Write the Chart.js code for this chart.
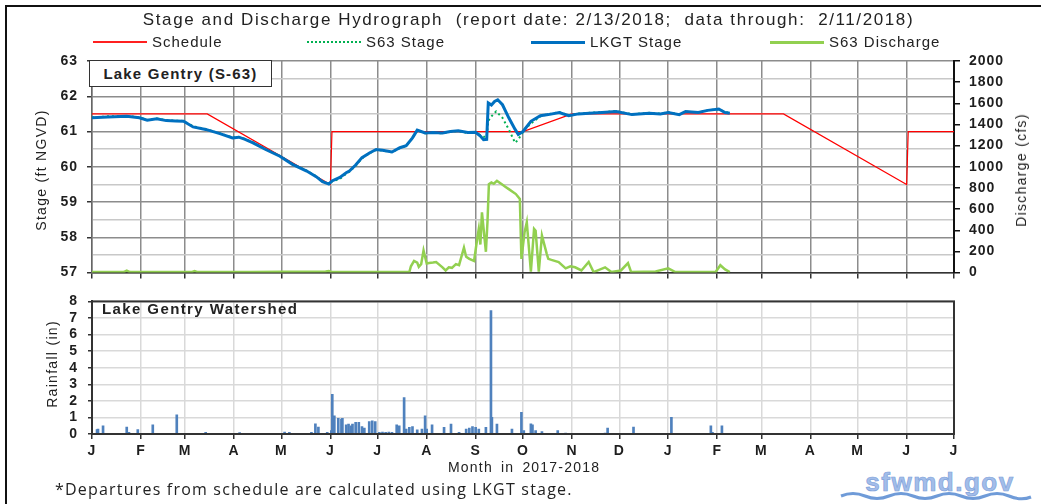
<!DOCTYPE html>
<html lang="en">
<head>
<meta charset="UTF-8">
<title>Lake Gentry - Stage and Discharge Hydrograph</title>
<script src="https://cdn.jsdelivr.net/npm/chart.js"></script>
<style>
    body {
        margin: 0;
        background: #fff;
        font-family: "Liberation Sans", Arial, sans-serif;
        color: #222;
    }
    #page {
        position: relative;
        width: 1041px;
        height: 504px;
        overflow: hidden;
    }
    .frame {
        position: absolute;
        left: 5px;
        top: 5px;
        width: 1100px;
        height: 600px;
        border-left: 2px solid #111;
        border-top: 2px solid #111;
    }
    canvas { position: absolute; left: 0; }
    #topChart { top: 0; }
    #rainChart { top: 283px; }
    .title {
        position: absolute;
        top: 10px;
        left: 8px;
        width: 1041px;
        text-align: center;
        font-size: 17px;
        letter-spacing: 1.6px;
        white-space: pre;
    }
    .lg {
        position: absolute;
        top: 33px;
        font-size: 15px;
        letter-spacing: 1px;
        white-space: nowrap;
        line-height: 17px;
    }
    .lg span {
        display: inline-block;
        width: 54px;
        vertical-align: middle;
        margin-right: 5px;
        margin-top: -2px;
    }
    .ylab {
        position: absolute;
        font-size: 14px;
        letter-spacing: 1.3px;
        white-space: nowrap;
        transform: translate(-50%, -50%) rotate(-90deg);
    }
    .box {
        position: absolute;
        left: 89px;
        top: 60px;
        width: 181px;
        height: 25px;
        border: 1.5px solid #333;
        background: #fff;
        font-weight: bold;
        font-size: 15px;
        letter-spacing: 1.2px;
        line-height: 25px;
        text-align: center;
    }
    .note {
        position: absolute;
        white-space: nowrap;
    }
    .mark {
        position: absolute;
        left: 838px;
        top: 469px;
    }
</style>
</head>
<body>
<div id="page">
    <div class="frame"></div>
    <canvas id="topChart" width="1041" height="290"></canvas>
    <canvas id="rainChart" width="1041" height="180"></canvas>

    <div class="title">Stage and Discharge Hydrograph  (report date: 2/13/2018;  data through:  2/11/2018)</div>
    <div class="lg" style="left:93px"><span style="height:1.5px; background:#ff2020"></span>Schedule</div>
    <div class="lg" style="left:307px"><span style="border-top:2px dotted #00b050"></span>S63 Stage</div>
    <div class="lg" style="left:531px"><span style="height:3px; background:#0070c0"></span>LKGT Stage</div>
    <div class="lg" style="left:770px"><span style="height:3px; background:#92d050"></span>S63 Discharge</div>

    <div class="ylab" style="left:41px; top:170px">Stage (ft NGVD)</div>
    <div class="ylab" style="left:1021px; top:170px">Discharge (cfs)</div>
    <div class="ylab" style="left:52px; top:364px">Rainfall (in)</div>

    <div class="box">Lake Gentry (S-63)</div>
    <div class="note" style="left:102px; top:300px; font-weight:bold; font-size:15px; letter-spacing:1.4px">Lake Gentry Watershed</div>
    <div class="note" style="left:448px; top:459px; font-size:14px; letter-spacing:1.2px; word-spacing:3px">Month in 2017-2018</div>
    <div class="note" style="left:55px; top:478px; font-size:16px; letter-spacing:1.2px; font-family:'Open Sans', sans-serif">*Departures from schedule are calculated using LKGT stage.</div>

    <svg class="mark" width="195" height="34" viewBox="0 0 195 34">
        <text x="102" y="22" text-anchor="middle" font-family="Liberation Sans, Arial" font-weight="bold"
              font-size="26" fill="#a3bde9" stroke="#7fa2da" stroke-width="0.7" letter-spacing="1.5">sfwmd.gov</text>
        <path d="M3 27 Q 15 22 27 27 T 51 27 T 75 27 T 99 27 T 123 27 T 147 27 T 171 27 T 193 28"
              fill="none" stroke="#6f9bd8" stroke-width="3"/>
    </svg>
</div>

<script>
    // x values are days since Jan 1, 2017
    const monthStarts = [0, 31, 59, 90, 120, 151, 181, 212, 243, 273, 304, 334, 365, 396, 424, 455, 485, 516, 546];
    const monthLabels = ['J', 'F', 'M', 'A', 'M', 'J', 'J', 'A', 'S', 'O', 'N', 'D', 'J', 'F', 'M', 'A', 'M', 'J', 'J'];

    const scheduleDays  = [0, 73, 151, 152, 273, 304, 438, 516, 517, 546];
    const scheduleStage = [61.5, 61.5, 59.5, 61.0, 61.0, 61.5, 61.5, 59.5, 61.0, 61.0];

    const lkgtDays = [0, 10, 22, 30, 35, 41, 47, 53, 58, 64, 72, 81, 89, 93, 97, 102, 110, 119, 127, 136,
        142, 146, 150, 152, 157, 161, 163, 167, 171, 176, 180, 184, 190, 195, 199, 203, 206, 211, 216, 222,
        227, 232, 238, 243, 246, 248, 250, 251, 253, 255, 257, 260, 264, 268, 270, 273, 278, 284, 289, 296,
        302, 308, 315, 323, 332, 342, 353, 360, 365, 372, 376, 384, 390, 397, 401, 404];
    const lkgtStage = [61.39, 61.41, 61.43, 61.39, 61.32, 61.36, 61.31, 61.30, 61.29, 61.13, 61.06, 60.94, 60.82, 60.84, 60.78, 60.68, 60.49, 60.30, 60.07, 59.88,
        59.72, 59.58, 59.51, 59.60, 59.70, 59.83, 59.88, 60.05, 60.26, 60.40, 60.49, 60.47, 60.42, 60.54, 60.60, 60.82, 61.04, 60.96, 60.97, 60.96,
        61.00, 61.02, 60.97, 60.98, 60.87, 60.77, 60.78, 61.81, 61.75, 61.85, 61.90, 61.76, 61.39, 61.06, 60.92, 61.00, 61.29, 61.45, 61.48, 61.54,
        61.45, 61.50, 61.52, 61.54, 61.57, 61.48, 61.52, 61.50, 61.54, 61.48, 61.57, 61.54, 61.60, 61.64, 61.54, 61.52];

    const s63Days = [0, 10, 22, 30, 35, 41, 47, 53, 58, 64, 72, 81, 89, 93, 97, 102, 110, 119, 127, 136,
        142, 146, 150, 152, 157, 161, 163, 167, 171, 176, 180, 184, 190, 195, 199, 203, 206, 211, 216, 222,
        227, 232, 238, 243, 246, 248, 250, 251, 253, 256, 260, 264, 268, 270, 274, 280, 284, 289, 296,
        302, 308, 315, 323, 332, 342, 353, 360, 365, 372, 376, 384, 390, 397, 401, 404];
    const s63Stage = [61.40, 61.43, 61.44, 61.40, 61.33, 61.37, 61.32, 61.31, 61.30, 61.15, 61.07, 60.95, 60.83, 60.85, 60.79, 60.69, 60.50, 60.31, 60.08, 59.89,
        59.73, 59.59, 59.52, 59.58, 59.66, 59.80, 59.86, 60.03, 60.24, 60.39, 60.48, 60.46, 60.41, 60.53, 60.59, 60.81, 61.03, 60.95, 60.96, 60.95,
        60.99, 61.01, 60.96, 60.97, 60.90, 60.85, 60.85, 61.30, 61.43, 61.57, 61.39, 61.06, 60.68, 60.77, 61.06, 61.30, 61.43, 61.49, 61.55,
        61.46, 61.51, 61.53, 61.55, 61.58, 61.49, 61.53, 61.51, 61.55, 61.49, 61.56, 61.55, 61.61, 61.63, 61.55, 61.53];

    const dischargeDays = [0, 20, 22, 24, 63, 65, 67, 100, 120, 148, 150, 152, 201, 202, 204, 206, 207, 208.5, 210, 212,
        213.5, 216, 218, 222, 224, 226, 228, 230.5, 232.5, 235.6, 237, 239, 242, 244, 245, 246, 247, 248, 249.5, 250.5,
        251.4, 253, 254.5, 256.5, 259.6, 262, 264, 268.5, 271, 272, 274, 275.4, 278, 280, 281, 282, 283, 285, 288, 289,
        291, 295.6, 300, 303, 306, 310, 314.6, 317.7, 325, 329, 335, 339.5, 341.5, 357, 365, 369.5, 395, 398, 401, 404];
    const dischargeCfs = [5, 5, 18, 5, 5, 15, 5, 5, 8, 10, 15, 5, 5, 60, 110, 95, 55, 80, 210, 85,
        90, 95, 100, 50, 20, 50, 45, 80, 70, 235, 150, 130, 110, 320, 413, 265, 570, 420, 197, 480,
        836, 852, 840, 867, 836, 810, 789, 742, 695, 130, 382, 476, 10, 413, 395, 200, 10, 350, 180, 130,
        120, 100, 40, 60, 50, 20, 100, 5, 50, 5, 20, 90, 5, 10, 40, 5, 5, 70, 30, 5];

    const rainDays = [3.2, 3.8, 7, 22, 23.4, 29, 38.5, 53.7, 72, 93.5, 122, 125, 139, 141.5, 143.4, 149, 151.6, 152.2, 153.5, 156,
        158, 158.6, 161, 162.5, 164, 165, 167, 169, 171, 172.5, 175.6, 177.5, 179.4, 182, 184, 186, 188, 190, 193, 194.6,
        197.7, 199, 201, 203, 206, 209, 211, 212, 215.4, 223, 227.4, 232.5, 237, 239, 241, 243, 245, 249.5, 252.7, 253.3,
        256.5, 266, 272, 273.5, 278, 279, 281, 285, 295, 300, 325, 326.6, 343, 367, 392, 393, 399];
    const rainInches = [0.26, 0.3, 0.5, 0.42, 0.1, 0.26, 0.56, 1.15, 0.1, 0.08, 0.12, 0.1, 0.1, 0.62, 0.42, 0.1, 0.2, 2.4, 1.1, 0.95,
        0.9, 0.95, 0.55, 0.6, 0.5, 0.6, 0.7, 0.7, 0.45, 0.35, 0.75, 0.8, 0.75, 0.1, 0.12, 0.1, 0.12, 0.1, 0.55, 0.5,
        2.2, 0.3, 0.4, 0.45, 0.25, 0.3, 1.1, 0.3, 0.55, 0.4, 0.6, 0.1, 0.3, 0.35, 0.45, 0.4, 0.3, 0.4, 7.45, 1.0,
        0.6, 0.3, 1.3, 0.2, 0.62, 0.55, 0.2, 0.15, 0.2, 0.05, 0.05, 0.35, 0.42, 1.0, 0.5, 0.1, 0.5];

    const PLOT_LEFT = 92;
    const PLOT_RIGHT = 954;
    const W = 1041;
    const tickFont = { family: 'Liberation Sans', size: 14, weight: 'bold' };
    const tickColor = '#1e1e1e';

    function pts(xs, ys) {
        return xs.map((x, i) => ({ x: x, y: ys[i] }));
    }

    function monthTicks(scale) {
        scale.ticks = monthStarts.map(v => ({ value: v }));
    }

    const isInt = v => Math.abs(v - Math.round(v)) < 1e-6;

    // the reference's tick labels are set a little wide
    const wideText = {
        id: 'wideText',
        beforeDraw(chart) { chart.ctx.letterSpacing = '1px'; }
    };

    new Chart(document.getElementById('topChart'), {
        type: 'line',
        data: {
            datasets: [
                {
                    label: 'LKGT Stage',
                    data: pts(lkgtDays, lkgtStage),
                    yAxisID: 'y',
                    borderColor: '#0070c0',
                    borderWidth: 3,
                    pointRadius: 0,
                    order: 1
                },
                {
                    label: 'S63 Stage',
                    data: pts(s63Days, s63Stage),
                    yAxisID: 'y',
                    borderColor: '#00b050',
                    borderWidth: 2,
                    borderDash: [2, 3],
                    pointRadius: 0,
                    order: 2
                },
                {
                    label: 'Schedule',
                    data: pts(scheduleDays, scheduleStage),
                    yAxisID: 'y',
                    borderColor: '#ff0000',
                    borderWidth: 1.2,
                    pointRadius: 0,
                    order: 3
                },
                {
                    label: 'S63 Discharge',
                    data: pts(dischargeDays, dischargeCfs),
                    yAxisID: 'y2',
                    borderColor: '#92d050',
                    borderWidth: 2.5,
                    pointRadius: 0,
                    order: 0
                }
            ]
        },
        options: {
            responsive: false,
            animation: false,
            events: [],
            layout: { padding: { top: 61, left: 0, right: 0, bottom: 0 } },
            plugins: { legend: { display: false }, tooltip: { enabled: false } },
            scales: {
                x: {
                    type: 'linear',
                    min: 0,
                    max: 546,
                    afterBuildTicks: monthTicks,
                    afterFit: s => { s.height = 16; },
                    ticks: { display: false },
                    grid: { color: '#8c8c8c', lineWidth: 1.5, tickLength: 6, tickColor: '#333' },
                    border: { color: '#333', width: 1.5 }
                },
                y: {
                    position: 'left',
                    min: 57,
                    max: 63,
                    ticks: {
                        stepSize: 0.5,
                        autoSkip: false,
                        callback: v => isInt(v) ? v : '',
                        font: tickFont,
                        color: tickColor,
                        padding: 9
                    },
                    afterFit: s => { s.width = PLOT_LEFT; },
                    grid: {
                        color: c => isInt(c.tick.value) ? '#8c8c8c' : '#c8c8c8',
                        lineWidth: 1.5,
                        tickLength: 5,
                        tickColor: c => isInt(c.tick.value) ? '#333' : 'rgba(0,0,0,0)'
                    },
                    border: { color: '#666', width: 1.5 }
                },
                y2: {
                    position: 'right',
                    min: 0,
                    max: 2000,
                    ticks: { stepSize: 200, autoSkip: false, callback: v => String(v), font: tickFont, color: tickColor, padding: 9 },
                    afterFit: s => { s.width = W - PLOT_RIGHT; },
                    grid: { drawOnChartArea: false, tickLength: 6, tickColor: '#111', lineWidth: 1.5 },
                    border: { color: '#111', width: 2 }
                }
            }
        },
        plugins: [wideText]
    });

    const plotBox = {
        id: 'plotBox',
        afterDraw(chart) {
            const a = chart.chartArea;
            const ctx = chart.ctx;
            ctx.save();
            ctx.strokeStyle = '#333';
            ctx.lineWidth = 2;
            ctx.strokeRect(a.left, a.top, a.right - a.left, a.bottom - a.top);
            ctx.restore();
        }
    };

    // canvas starts at 283px; the top tick label keeps the plot 17px down, so the plot spans 300..434
    new Chart(document.getElementById('rainChart'), {
        type: 'bar',
        data: {
            datasets: [{
                label: 'Rainfall',
                data: pts(rainDays, rainInches),
                backgroundColor: '#4f81bd',
                barThickness: 2,
                grouped: false
            }]
        },
        options: {
            responsive: false,
            animation: false,
            events: [],
            layout: { padding: { top: 3, left: 0, right: W - PLOT_RIGHT, bottom: 0 } },
            plugins: { legend: { display: false }, tooltip: { enabled: false } },
            scales: {
                x: {
                    type: 'linear',
                    min: 0,
                    max: 546,
                    offset: false,
                    afterBuildTicks: monthTicks,
                    afterFit: s => { s.height = 180 - (434 - 283); },
                    ticks: {
                        callback: v => monthLabels[monthStarts.indexOf(v)],
                        autoSkip: false,
                        maxRotation: 0,
                        font: tickFont,
                        color: tickColor,
                        padding: 4
                    },
                    grid: { offset: false, color: '#d9d9d9', lineWidth: 1.5, tickLength: 5, tickColor: '#333' },
                    border: { color: '#333', width: 2 }
                },
                y: {
                    min: 0,
                    max: 8,
                    ticks: { stepSize: 1, autoSkip: false, font: tickFont, color: tickColor, padding: 10 },
                    afterFit: s => { s.width = PLOT_LEFT; },
                    grid: { color: '#d9d9d9', lineWidth: 1.5, tickLength: 4, tickColor: '#333' },
                    border: { color: '#333', width: 2 }
                }
            }
        },
        plugins: [plotBox, wideText]
    });
</script>
</body>
</html>
